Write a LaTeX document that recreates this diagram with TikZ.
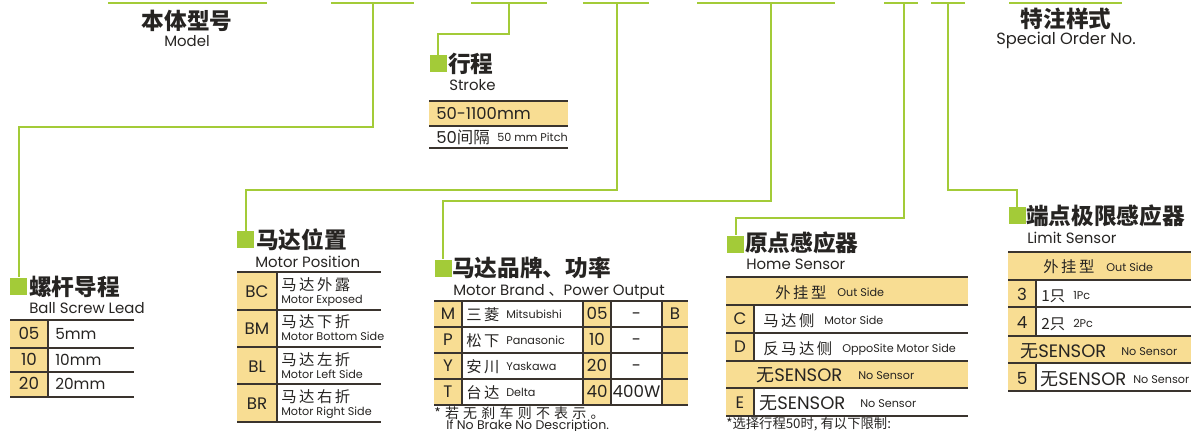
\documentclass[tikz,border=0pt]{standalone}
\usepackage{fontspec}
\setmainfont{Poppins}
\newfontfamily\cjk{Noto Sans CJK SC}
\newfontfamily\cjksp[LetterSpace=30]{Noto Sans CJK SC}
\newcommand\zh[1]{{\cjk #1}}
\definecolor{grn}{RGB}{163,203,56}
\definecolor{yel}{RGB}{248,221,147}
\definecolor{rl}{RGB}{58,52,46}
\definecolor{ink}{RGB}{38,36,34}

\begin{document}
\begin{tikzpicture}[
    x=0.75pt, y=-0.75pt,
    link/.style={draw=grn, line width=1.5pt},
    sq/.style={fill=grn, minimum size=12.75pt, inner sep=0pt},
    head/.style={font=\cjk\bfseries\fontsize{17}{18}\selectfont, text=ink,
                 anchor=base west, inner sep=0pt},
    sub/.style={font=\fontsize{11.2}{12}\selectfont, text=ink,
                anchor=base west, inner sep=0pt},
    rule/.style={draw=rl, line width=1.3pt},
    code/.style={font=\fontsize{12.5}{13}\selectfont, text=ink, anchor=base, inner sep=0pt},
    txt/.style={font=\fontsize{11.5}{13}\selectfont, text=ink, anchor=base west, inner sep=0pt},
    zhtxt/.style={font=\cjk\fontsize{11.5}{13}\selectfont, text=ink, anchor=base west, inner sep=0pt},
    sens/.style={font=\fontsize{13.5}{14}\selectfont, text=ink, anchor=base west, inner sep=0pt},
    small/.style={font=\fontsize{8.4}{9}\selectfont, text=ink, anchor=base west, inner sep=0pt},
    note/.style={text=ink, anchor=base west, inner sep=0pt}
  ]
  \useasboundingbox (0,0) rectangle (1191,431);

  % top code bars
  \foreach \a/\b in {108/267, 331/414, 471/547, 583/649, 697/835, 884/918, 931/965, 1009/1122}
    \draw[link] (\a,3) -- (\b,3);
  \coordinate (stemLead) at (373,3);
  \coordinate (stemStroke) at (509,3);
  \coordinate (stemPos) at (617,3);
  \coordinate (stemBrand) at (771,3);
  \coordinate (stemHome) at (904,3);
  \coordinate (stemLimit) at (948,3);

  \node[head, anchor=base] (model) at (187,30) {本体型号};
  \node[sub, anchor=base] (modelEn) at (187,47) {Model};
  \node[head, anchor=base] (special) at (1066,28) {特注样式};
  \node[sub, anchor=base, font=\fontsize{12.2}{13}\selectfont] (specialEn) at (1066,45) {Special Order No.};

  % group markers
  \node[sq] (sqLead) at (18.5,286) {};
  \node[sq] (sqStroke) at (438,63.5) {};
  \node[sq] (sqPos) at (245.5,239.5) {};
  \node[sq] (sqBrand) at (443,268) {};
  \node[sq] (sqHome) at (735.5,244) {};
  \node[sq] (sqLimit) at (1017,215.5) {};

  \draw[link] (stemLead) -- ++(0,124) -| (sqLead.north);
  \draw[link] (stemStroke) -- ++(0,31) -| (sqStroke.north);
  \draw[link] (stemPos) -- ++(0,187) -| (sqPos.north);
  \draw[link] (stemBrand) -- ++(0,197.5) -| (sqBrand.north);
  \draw[link] (stemHome) -- ++(0,215) -| (sqHome.north);
  \draw[link] (stemLimit) -- ++(0,187) -| (sqLimit.north);

  % ball screw lead
  \node[head] (leadHd) at (29,295) {螺杆导程};
  \node[sub] (leadEn) at (29,313) {Ball Screw Lead};
  \fill[yel] (10,320) rectangle (48,397);
  \foreach \y in {320,348,372,397} \draw[rule] (10,\y) -- (134,\y);
  \draw[rule] (48,320) -- (48,397);
  \foreach \c/\t/\b in {05/5mm/339, 10/10mm/365, 20/20mm/389} {
    \node[code] (lead\c) at (29,\b) {\c};
    \node[txt] (leadT\c) at (55,\b) {\t};
  }

  % stroke
  \node[head] (strokeHd) at (448,73) {行程};
  \node[sub] (strokeEn) at (449,91) {Stroke};
  \fill[yel] (429,101) rectangle (568,126);
  \foreach \y in {101,126,148} \draw[rule] (429,\y) -- (568,\y);
  \node[txt, font=\fontsize{12.3}{13}\selectfont] (strokeA) at (436,120) {50-1100mm};
  \node[txt, font=\fontsize{12.3}{13}\selectfont] (strokeB) at (436,143) {50\zh{间隔}};
  \node[small, anchor=base east] (strokeC) at (568,142) {50 mm Pitch};

  % motor position
  \node[head] (posHd) at (256,248) {马达位置};
  \node[sub] (posEn) at (255,267) {Motor Position};
  \fill[yel] (237,272) rectangle (277,422);
  \foreach \y in {272,310,347,384,422} \draw[rule] (237,\y) -- (381,\y);
  \draw[rule] (277,272) -- (277,422);
  \foreach \c/\z/\e [count=\i from 0] in {BC/马\,达\,外\,露/Motor Exposed,
      BM/马\,达\,下\,折/Motor Bottom Side, BL/马\,达\,左\,折/Motor Left Side,
      BR/马\,达\,右\,折/Motor Right Side} {
    \node[code] (pos\c) at (257,{297+37.5*\i}) {\c};
    \node[zhtxt] (posZ\c) at (281,{290+37.5*\i}) {\z};
    \node[small] (posE\c) at (281,{303+37.5*\i}) {\e};
  }

  % motor brand, power output
  \node[head] (brandHd) at (452,276) {马达品牌、功率};
  \node[sub] (brandEn) at (453,295) {Motor Brand \zh{、}Power Output};
  \fill[yel] (434,301) rectangle (462,405);
  \fill[yel] (583,301) rectangle (611,405);
  \fill[yel] (662,301) rectangle (688,405);
  \foreach \y in {301,327,353,379,405} \draw[rule] (434,\y) -- (688,\y);
  \foreach \x in {462,583,611,662} \draw[rule] (\x,301) -- (\x,405);
  \foreach \c/\z/\e/\p/\w [count=\i from 0] in {M/三\,菱/Mitsubishi/05/-,
      P/松\,下/Panasonic/10/-, Y/安\,川/Yaskawa/20/-, T/台\,达/Delta/40/400W} {
    \node[code] (brand\c) at (448,{319+26*\i}) {\c};
    \node[zhtxt] (brandZ\c) at (466,{320+26*\i}) {\z};
    \node[small] (brandE\c) at (506,{318+26*\i}) {\e};
    \node[code] (power\c) at (597,{319+26*\i}) {\p};
    \node[code] (watt\c) at (636.5,{319+26*\i}) {\w};
  }
  \node[code] (brake) at (675,319) {B};
  \node[note, font=\cjksp\fontsize{10.5}{11}\selectfont] (brandNote) at (434,418) {*若无刹车则不表示。};
  \node[note, font=\fontsize{9.4}{10}\selectfont] (brandNoteEn) at (446,429) {If No Brake No Description.};

  % home sensor
  \node[head] (homeHd) at (745,251) {原点感应器};
  \node[sub] (homeEn) at (746,269) {Home Sensor};
  \fill[yel] (726,277) rectangle (968,305);
  \fill[yel] (726,361) rectangle (968,388);
  \fill[yel] (726,305) rectangle (754,361);
  \fill[yel] (726,388) rectangle (754,416);
  \foreach \y in {277,305,333,361,388,416} \draw[rule] (726,\y) -- (968,\y);
  \draw[rule] (754,305) -- (754,361);
  \draw[rule] (754,388) -- (754,416);
  \node[zhtxt] (homeOut) at (775,298) {外\,挂\,型};
  \node[small] (homeOutEn) at (837,296) {Out Side};
  \node[code] (homeC) at (740,324) {C};
  \node[zhtxt] (homeCz) at (763,326) {马\,达\,侧};
  \node[small] (homeCe) at (824,324) {Motor Side};
  \node[code] (homeD) at (740,352) {D};
  \node[zhtxt] (homeDz) at (763,354) {反\,马\,达\,侧};
  \node[small] (homeDe) at (842,352) {OppoSite Motor Side};
  \node[sens] (homeNone) at (756,381) {\zh{无}SENSOR};
  \node[small] (homeNoneEn) at (858,379) {No Sensor};
  \node[code] (homeE) at (740,408) {E};
  \node[sens] (homeEz) at (759,409) {\zh{无}SENSOR};
  \node[small] (homeEe) at (860,407) {No Sensor};
  \node[note, font=\cjk\fontsize{10}{11}\selectfont] (homeNote) at (726,428) {*选择行程50时, 有以下限制:};

  % limit sensor
  \node[head] (limitHd) at (1026,224) {端点极限感应器};
  \node[sub] (limitEn) at (1027,243) {Limit Sensor};
  \fill[yel] (1008,252) rectangle (1191,280);
  \fill[yel] (1008,336) rectangle (1191,363);
  \fill[yel] (1008,280) rectangle (1036,336);
  \fill[yel] (1008,363) rectangle (1036,391);
  \foreach \y in {252,280,307,336,363,391} \draw[rule] (1008,\y) -- (1191,\y);
  \draw[rule] (1036,280) -- (1036,336);
  \draw[rule] (1036,363) -- (1036,391);
  \node[zhtxt] (limitOut) at (1043,272) {外\,挂\,型};
  \node[small] (limitOutEn) at (1106,271) {Out Side};
  \node[code] (limit3) at (1022,300) {3};
  \node[zhtxt] (limit3z) at (1041,301) {1只};
  \node[small] (limit3e) at (1073,299) {1Pc};
  \node[code] (limit4) at (1022,328) {4};
  \node[zhtxt] (limit4z) at (1041,329) {2只};
  \node[small] (limit4e) at (1073,327) {2Pc};
  \node[sens] (limitNone) at (1020,357) {\zh{无}SENSOR};
  \node[small] (limitNoneEn) at (1121,355) {No Sensor};
  \node[code] (limit5) at (1022,384) {5};
  \node[sens] (limit5z) at (1040,385) {\zh{无}SENSOR};
  \node[small] (limit5e) at (1133,383) {No Sensor};
\end{tikzpicture}
\end{document}
